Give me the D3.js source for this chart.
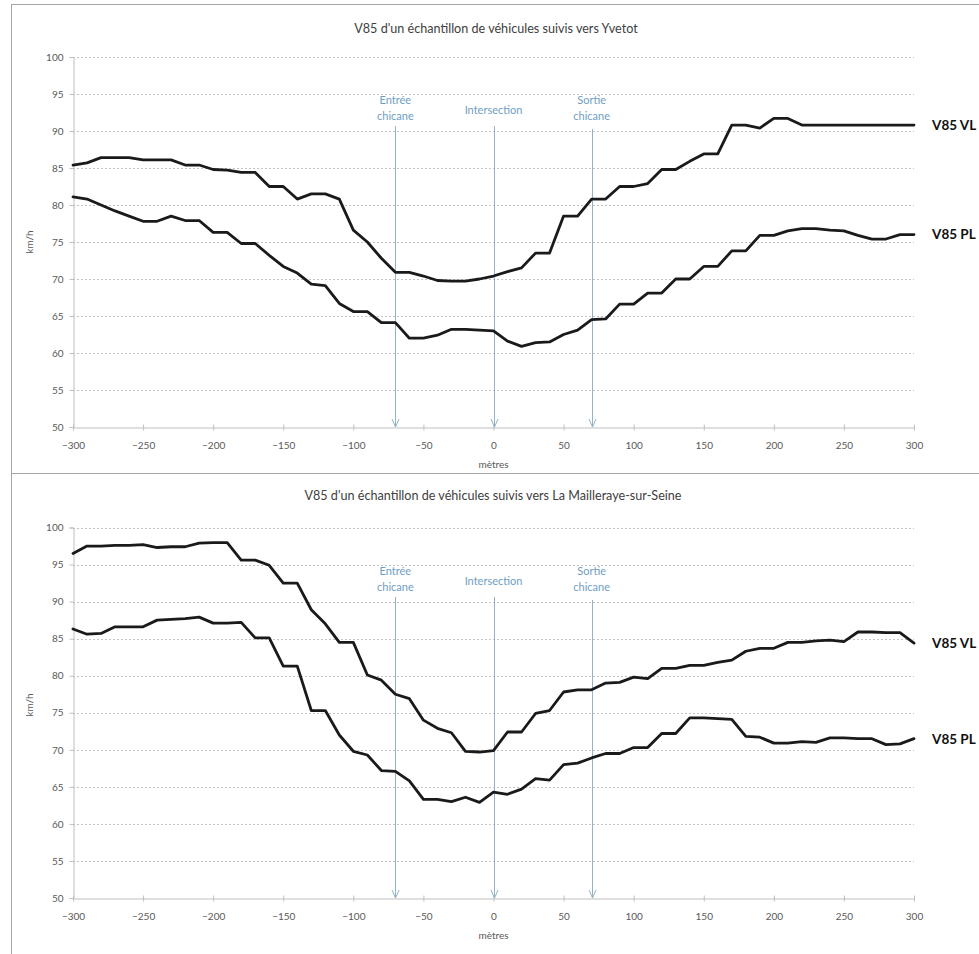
<!DOCTYPE html>
<html>
<head>
<meta charset="utf-8">
<script src="https://cdn.jsdelivr.net/npm/d3@7"></script>
<style>
  html, body { margin: 0; padding: 0; background: #ffffff; }
  svg { display: block; }
  text { font-family: Lato, "Open Sans", "DejaVu Sans", sans-serif; }
</style>
</head>
<body>
<svg id="chart" width="979" height="954"></svg>
<script>
// ---------------- DATA ----------------
const distances = [-300,-290,-280,-270,-260,-250,-240,-230,-220,-210,-200,-190,-180,-170,-160,-150,-140,-130,-120,-110,-100,-90,-80,-70,-60,-50,-40,-30,-20,-10,0,10,20,30,40,50,60,70,80,90,100,110,120,130,140,150,160,170,180,190,200,210,220,230,240,250,260,270,280,290,300];

const yvetotVL = [85.4,85.7,86.4,86.4,86.4,86.1,86.1,86.1,85.4,85.4,84.8,84.7,84.4,84.4,82.5,82.5,80.8,81.5,81.5,80.8,76.6,75.0,72.8,70.9,70.9,70.4,69.8,69.7,69.7,70.0,70.4,71.0,71.5,73.5,73.5,78.5,78.5,80.8,80.8,82.5,82.5,82.9,84.8,84.8,85.9,86.9,86.9,90.8,90.8,90.4,91.7,91.7,90.8,90.8,90.8,90.8,90.8,90.8,90.8,90.8,90.8];
const yvetotPL = [81.1,80.8,80.0,79.2,78.5,77.8,77.8,78.5,77.9,77.9,76.3,76.3,74.8,74.8,73.2,71.7,70.8,69.3,69.1,66.7,65.6,65.6,64.1,64.1,62.0,62.0,62.4,63.2,63.2,63.1,63.0,61.6,60.9,61.4,61.5,62.5,63.1,64.5,64.6,66.6,66.6,68.1,68.1,70.0,70.0,71.7,71.7,73.8,73.8,75.9,75.9,76.5,76.8,76.8,76.6,76.5,75.9,75.4,75.4,76.0,76.0];

const maillerayeVL = [96.5,97.5,97.5,97.6,97.6,97.7,97.3,97.4,97.4,97.9,97.95,97.95,95.6,95.6,94.9,92.5,92.5,88.9,87.0,84.5,84.5,80.1,79.4,77.5,76.9,74.0,72.9,72.3,69.8,69.7,69.9,72.4,72.4,74.9,75.3,77.8,78.1,78.1,79.0,79.1,79.8,79.6,81.0,81.0,81.4,81.4,81.8,82.1,83.3,83.7,83.7,84.5,84.5,84.7,84.8,84.6,85.9,85.9,85.8,85.8,84.4];
const maillerayePL = [86.3,85.6,85.7,86.6,86.6,86.6,87.5,87.6,87.7,87.9,87.1,87.1,87.2,85.1,85.1,81.3,81.3,75.3,75.3,72.0,69.8,69.3,67.2,67.1,65.8,63.3,63.3,63.0,63.6,62.9,64.3,64.0,64.7,66.1,65.9,68.0,68.2,68.9,69.5,69.5,70.3,70.3,72.2,72.2,74.3,74.3,74.2,74.1,71.8,71.7,70.9,70.9,71.1,71.0,71.6,71.6,71.5,71.5,70.7,70.8,71.5];

const xTicks = [-300,-250,-200,-150,-100,-50,0,50,100,150,200,250,300];
const yTicks = [50,55,60,65,70,75,80,85,90,95,100];

const markerPositions = [-70, 0, 70];
const markerLabels = [["Entrée","chicane"], ["Intersection"], ["Sortie","chicane"]];

const seriesNames = ["V85 VL", "V85 PL"];
const panelTitles = [
  "V85 d'un échantillon de véhicules suivis vers Yvetot",
  "V85 d'un échantillon de véhicules suivis vers La Mailleraye-sur-Seine"
];
const xAxisTitle = "mètres";
const yAxisTitle = "km/h";

// ---------------- DRAW ----------------
const svg = d3.select("#chart");
svg.append("rect").attr("width", 979).attr("height", 954).attr("fill", "#fff");

// frames
const frameColor = "#a6a6a6";
svg.append("line").attr("x1", 11.5).attr("x2", 11.5).attr("y1", 4).attr("y2", 954).attr("stroke", frameColor);
svg.append("line").attr("x1", 11).attr("x2", 979).attr("y1", 4.5).attr("y2", 4.5).attr("stroke", frameColor);
svg.append("line").attr("x1", 11).attr("x2", 979).attr("y1", 473.5).attr("y2", 473.5).attr("stroke", frameColor);

function drawPanel(cfg) {
  const g = svg.append("g");
  const x = d3.scaleLinear().domain([-300, 300]).range([73, 914]);
  const y = d3.scaleLinear().domain([50, 100]).range([cfg.bottom, cfg.top]);

  // gridlines
  g.append("g").selectAll("line").data(yTicks.filter(v => v > 50)).join("line")
    .attr("x1", x(-300)).attr("x2", x(300))
    .attr("y1", d => Math.round(y(d)) + 0.5).attr("y2", d => Math.round(y(d)) + 0.5)
    .attr("stroke", "#c4c4c4").attr("stroke-width", 1).attr("stroke-dasharray", "2,2");

  // y axis
  const yAxis = d3.axisLeft(y).tickValues(yTicks).tickSize(4).tickPadding(6).tickFormat(d3.format("d"));
  const ya = g.append("g").attr("transform", `translate(${x(-300) + 0.5},0)`).call(yAxis);
  ya.select(".domain").attr("stroke", "#bfbfbf");
  ya.selectAll(".tick line").attr("stroke", "#bfbfbf");
  ya.selectAll(".tick text").attr("fill", "#595959").attr("font-size", 10)
    .attr("font-family", "Lato, sans-serif");

  // x axis
  const xAxis = d3.axisBottom(x).tickValues(xTicks).tickSizeInner(4).tickSizeOuter(0).tickPadding(10).tickFormat(d3.format("d"));
  const xa = g.append("g").attr("transform", `translate(0,${Math.round(y(50)) + 0.5})`).call(xAxis);
  xa.select(".domain").attr("stroke", "#bfbfbf");
  xa.selectAll(".tick line").attr("stroke", "#bfbfbf").attr("y1", -3).attr("y2", 3);
  xa.selectAll(".tick text").attr("fill", "#595959").attr("font-size", 10)
    .attr("font-family", "Lato, sans-serif");

  // axis titles
  g.append("text").attr("x", (x(-300) + x(300)) / 2).attr("y", y(50) + 41)
    .attr("text-anchor", "middle").attr("fill", "#595959").attr("font-size", 10).text(xAxisTitle);
  g.append("text").attr("transform", `translate(33,${cfg.ylabelY}) rotate(-90)`)
    .attr("text-anchor", "middle").attr("fill", "#595959").attr("font-size", 10).text(yAxisTitle);

  // title
  g.append("text").attr("x", cfg.titleX).attr("y", cfg.titleY)
    .attr("text-anchor", "middle").attr("fill", "#404040").attr("font-size", 12.6).text(cfg.title);

  // markers
  const mk = g.append("g");
  markerPositions.forEach((m, i) => {
    const lines = markerLabels[i];
    const ax = Math.round(x(m)) + 0.5, ay = y(50);
    mk.append("line").attr("x1", ax).attr("x2", ax)
      .attr("y1", cfg.markTop + (i === 2 ? 3 : 0)).attr("y2", ay)
      .attr("stroke", "#93b4c6").attr("stroke-width", 1);
    mk.append("path").attr("d", `M${ax - 3.5},${ay - 8} L${ax},${ay} L${ax + 3.5},${ay - 8}`)
      .attr("fill", "none").attr("stroke", "#93b4c6").attr("stroke-width", 1);
    if (lines.length === 1) {
      mk.append("text").attr("x", x(m)).attr("y", cfg.markTop - 12)
        .attr("text-anchor", "middle").attr("fill", "#6f9ec4").attr("font-size", 11).text(lines[0]);
    } else {
      lines.forEach((t, j) => {
        mk.append("text").attr("x", x(m)).attr("y", cfg.markTop - 22 + j * 16)
          .attr("text-anchor", "middle").attr("fill", "#6f9ec4").attr("font-size", 11).text(t);
      });
    }
  });

  // series
  const line = d3.line().x((d, i) => x(distances[i])).y(d => y(d)).curve(d3.curveLinear);
  [cfg.vl, cfg.pl].forEach((s, k) => {
    g.append("path").datum(s).attr("d", line)
      .attr("fill", "none").attr("stroke", "#1a1a1a").attr("stroke-width", 2.8)
      .attr("stroke-linejoin", "round").attr("stroke-linecap", "round");
    g.append("text").attr("x", 932).attr("y", y(s[s.length - 1])).attr("dy", "0.36em")
      .attr("fill", "#111").attr("font-size", 13.5).attr("font-weight", "bold")
      .text(seriesNames[k]);
  });
}

drawPanel({ top: 57, bottom: 427, title: panelTitles[0], titleX: 496, titleY: 33, ylabelY: 242,
            markTop: 126, vl: yvetotVL, pl: yvetotPL });
drawPanel({ top: 527.5, bottom: 898, title: panelTitles[1], titleX: 493, titleY: 500, ylabelY: 705,
            markTop: 597, vl: maillerayeVL, pl: maillerayePL });
</script>
</body>
</html>
